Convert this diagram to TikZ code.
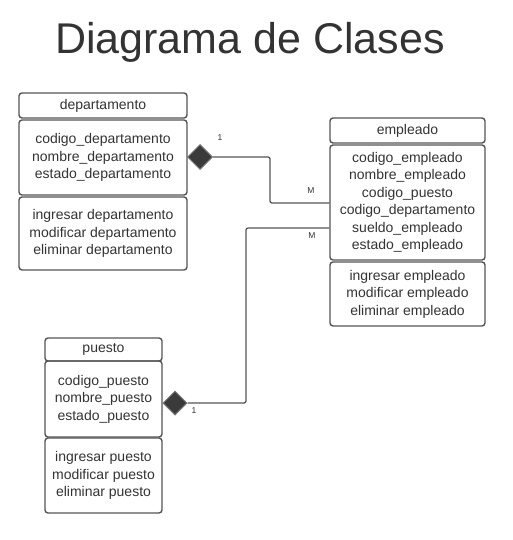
\documentclass[tikz,border=0pt]{standalone}
\usepackage{fontspec}
\setmainfont{Liberation Sans}
\usetikzlibrary{shapes.geometric}
\definecolor{txt}{HTML}{333333}
\definecolor{edge}{HTML}{555555}
\definecolor{dia}{HTML}{3A3A3A}
\tikzset{
  box/.style={draw=edge, line width=1.4pt, rounded corners=3pt, rectangle, inner sep=0pt,
    text=txt, font=\fontsize{14}{17.5}\selectfont, align=center},
  agg/.style={diamond, draw=edge!80, line width=1pt, fill=dia, inner sep=0pt, minimum width=25pt, minimum height=25pt, aspect=1},
  conn/.style={draw=edge, line width=1.3pt, rounded corners=2pt},
  mult/.style={text=txt, font=\fontsize{8.5}{9}\selectfont, inner sep=0pt}
}
\begin{document}
\begin{tikzpicture}[x=1pt,y=-1pt]
\useasboundingbox (0,0) rectangle (513,540);
\node[text=txt, font=\fontsize{43}{48}\selectfont] (title) at (250,42) {Diagrama de Clases};

% departamento
\node[box, minimum width=168pt, minimum height=25pt] (dH) at (103,105.5) {departamento};
\node[box, minimum width=168pt, minimum height=75pt] (dA) at (103,157.5) {codigo\_departamento\\nombre\_departamento\\estado\_departamento};
\node[box, minimum width=168pt, minimum height=73pt] (dM) at (103,233.5) {ingresar departamento\\modificar departamento\\eliminar departamento};

% empleado
\node[box, minimum width=155pt, minimum height=25pt] (eH) at (407.5,130.5) {empleado};
\node[box, minimum width=155pt, minimum height=115pt] (eA) at (407.5,202.5) {codigo\_empleado\\nombre\_empleado\\codigo\_puesto\\codigo\_departamento\\sueldo\_empleado\\estado\_empleado};
\node[box, minimum width=155pt, minimum height=64pt] (eM) at (407.5,294) {ingresar empleado\\modificar empleado\\eliminar empleado};

% puesto
\node[box, minimum width=117pt, minimum height=23pt] (pH) at (103.5,349.5) {puesto};
\node[box, minimum width=117pt, minimum height=76pt] (pA) at (103.5,399) {codigo\_puesto\\nombre\_puesto\\estado\_puesto};
\node[box, minimum width=117pt, minimum height=75pt] (pM) at (103.5,475.5) {ingresar puesto\\modificar puesto\\eliminar puesto};

% aggregation diamonds
\node[agg] (d1) at (200,157) {};
\node[agg, minimum width=24pt, minimum height=24pt] (d2) at (175,403) {};

\coordinate (e1) at (eA.west |- 0,203);
\coordinate (e2) at (eA.west |- 0,228);

\draw[conn] (d1.east) -| (270,180) |- (e1);
\draw[conn] (d2.east) -| (246,300) |- (e2);

\node[mult] (l1) at (220,138) {1};
\node[mult] (m1) at (311,191) {M};
\node[mult] (m2) at (312,236) {M};
\node[mult] (l2) at (194,411) {1};
\end{tikzpicture}
\end{document}
